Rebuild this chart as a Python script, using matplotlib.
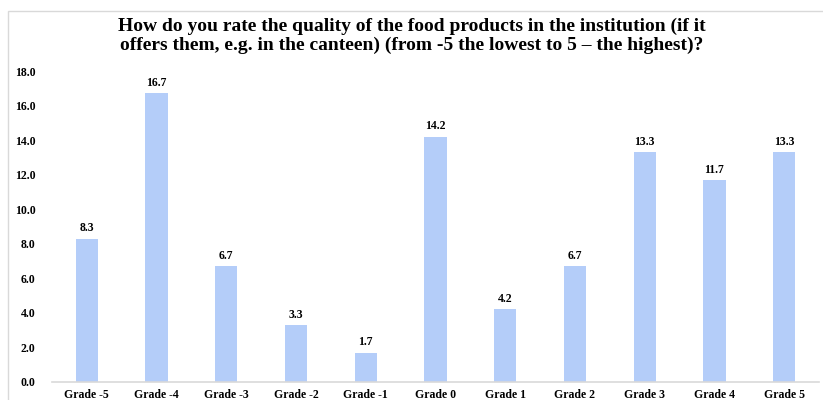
import matplotlib.pyplot as plt
import matplotlib.patches as patches
import numpy as np

grades = ['Grade -5', 'Grade -4', 'Grade -3', 'Grade -2', 'Grade -1', 'Grade 0',
          'Grade 1', 'Grade 2', 'Grade 3', 'Grade 4', 'Grade 5']
values = [8.3, 16.7, 6.7, 3.3, 1.7, 14.2, 4.2, 6.7, 13.3, 11.7, 13.3]

title = ('How do you rate the quality of the food products in the institution (if it\n'
         'offers them, e.g. in the canteen) (from -5 the lowest to 5 \u2013 the highest)?')

plt.rcParams['font.family'] = ['Liberation Serif', 'DejaVu Serif']
plt.rcParams['font.weight'] = 'bold'

fig = plt.figure(figsize=(8.23, 4), dpi=100)
ax = fig.add_axes([52 / 823, 18 / 400, (819 - 52) / 823, (382 - 71) / 400])

x = np.arange(len(grades))
bars = ax.bar(x, values, width=0.32, color='#b4cdf9')
for xi, v in zip(x, values):
    ax.text(xi, v + 0.25, f'{v:.1f}', ha='center', va='bottom', fontsize=8.5, fontweight='bold')

ax.set_xlim(-0.5, len(grades) - 0.5)
ax.set_ylim(0, 18)
ax.set_yticks(np.arange(0, 19, 2))
ax.set_yticklabels([f'{t:.1f}' for t in np.arange(0, 19, 2)])
ax.set_xticks(x)
ax.set_xticklabels(grades)
ax.tick_params(axis='both', length=0, labelsize=8.5)
ax.tick_params(axis='y', pad=12)
ax.tick_params(axis='x', pad=5)
for s in ['top', 'right', 'left']:
    ax.spines[s].set_visible(False)
ax.spines['bottom'].set_color('#d9d9d9')
ax.spines['bottom'].set_linewidth(1.2)

fig.text(0.5, 1 - 35.5 / 400, title, ha='center', va='center', fontsize=14,
         fontweight='bold', linespacing=1.15)

fig.patches.append(patches.Rectangle((8 / 823, -0.01), 1.0, (400 - 11) / 400 + 0.01,
                                     transform=fig.transFigure, fill=False,
                                     edgecolor='#d9d9d9', linewidth=1))

fig.savefig('out.png', dpi=100)
